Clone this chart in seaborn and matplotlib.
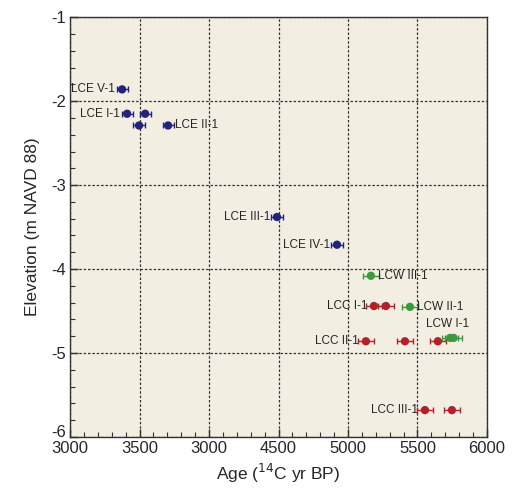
import matplotlib
matplotlib.use("Agg")
import matplotlib.pyplot as plt
import matplotlib.transforms as mtransforms
import seaborn as sns
import pandas as pd
from matplotlib.ticker import MultipleLocator, FixedLocator, FixedFormatter

sns.set_theme(style="ticks")
plt.rcParams['font.family'] = ['Liberation Sans', 'DejaVu Sans']
plt.rcParams['axes.unicode_minus'] = False

# data
ages = [3374, 3410, 3540, 3496, 3705, 4489, 4921,
        5165, 5446, 5735, 5760,
        5187, 5273, 5129, 5410, 5647, 5554, 5748]
elev = [-1.86, -2.15, -2.15, -2.29, -2.29, -3.38, -3.71,
        -4.08, -4.45, -4.82, -4.82,
        -4.44, -4.44, -4.86, -4.86, -4.86, -5.68, -5.68]
group = ["LCE"] * 7 + ["LCW"] * 4 + ["LCC"] * 7
age_err = [40, 40, 40, 40, 40, 40, 40,
           60, 60, 60, 60,
           60, 60, 60, 60, 60, 60, 60]

label_text = ["LCE V-1", "LCE I-1", "LCE II-1", "LCE III-1", "LCE IV-1",
              "LCW III-1", "LCW II-1", "LCW I-1",
              "LCC I-1", "LCC II-1", "LCC III-1"]
label_idx = [0, 1, 4, 5, 6, 7, 8, 9, 11, 13, 16]
label_side = ["left", "left", "right", "left", "left",
              "right", "right", "above", "left", "left", "left"]

x_ticks = [3000, 3500, 4000, 4500, 5000, 5500, 6000]
x_ticklabels = ["3000", "3500", "3000", "4500", "5000", "5500", "6000"]
y_ticks = [-6, -5, -4, -3, -2, -1]
y_ticklabels = ["-6", "-5", "-4", "-3", "-2", "-1"]

palette = {"LCE": "#23237a", "LCW": "#3c9a3c", "LCC": "#b3202a"}

df = pd.DataFrame({"age": ages, "elev": elev, "group": group, "err": age_err})

fig = plt.figure(figsize=(5.12, 4.91), dpi=100)
ax = fig.add_axes([0.137, 0.110, 0.814, 0.855])
ax.set_facecolor("#f2eee2")

for g, sub in df.groupby("group"):
    ax.errorbar(sub["age"], sub["elev"], xerr=sub["err"], fmt="none",
                ecolor=palette[g], elinewidth=1.0, capsize=2.5, capthick=1.0, zorder=3)
sns.scatterplot(data=df, x="age", y="elev", hue="group", palette=palette,
                s=36, edgecolor="none", legend=False, ax=ax, zorder=4)

for t, i, side in zip(label_text, label_idx, label_side):
    x, y = ages[i], elev[i]
    if side == "left":
        ax.annotate(t, (x, y), xytext=(-5, 0), textcoords="offset points",
                    ha="right", va="center", fontsize=8.5)
    elif side == "right":
        ax.annotate(t, (x, y), xytext=(5, 0), textcoords="offset points",
                    ha="left", va="center", fontsize=8.5)
    else:
        ax.annotate(t, (x, y), xytext=(-2, 6), textcoords="offset points",
                    ha="center", va="bottom", fontsize=8.5)

ax.set_xlim(3000, 6000)
ax.set_ylim(-6, -1)
ax.xaxis.set_major_locator(FixedLocator(x_ticks))
ax.xaxis.set_major_formatter(FixedFormatter(x_ticklabels))
ax.xaxis.set_minor_locator(MultipleLocator(100))
ax.yaxis.set_major_locator(FixedLocator(y_ticks))
ax.yaxis.set_major_formatter(FixedFormatter(y_ticklabels))
ax.yaxis.set_minor_locator(MultipleLocator(0.2))
ax.tick_params(which="both", direction="in", top=False, right=False, labelsize=12, pad=3)
ax.tick_params(which="major", length=6, width=1, color="#333333")
ax.tick_params(which="minor", length=3.5, width=0.8, color="#333333")
ax.grid(True, which="major", color="#333333", linestyle=(0, (2, 1.5)), linewidth=0.9)
for s in ax.spines.values():
    s.set_color("#333333")
    s.set_linewidth(1.0)

ax.set_xlabel("Age ($^{14}$C yr BP)", fontsize=12.5, labelpad=4)
ax.set_ylabel("Elevation (m NAVD 88)", fontsize=12.5, labelpad=8)

# nudge the bottom y tick label up slightly so it does not collide with "3000"
fig.canvas.draw()
lbl = ax.get_yticklabels()[0]
lbl.set_transform(lbl.get_transform() +
                  mtransforms.ScaledTranslation(0, 4 / 72, fig.dpi_scale_trans))

fig.savefig("out.png", dpi=100, facecolor="white")
